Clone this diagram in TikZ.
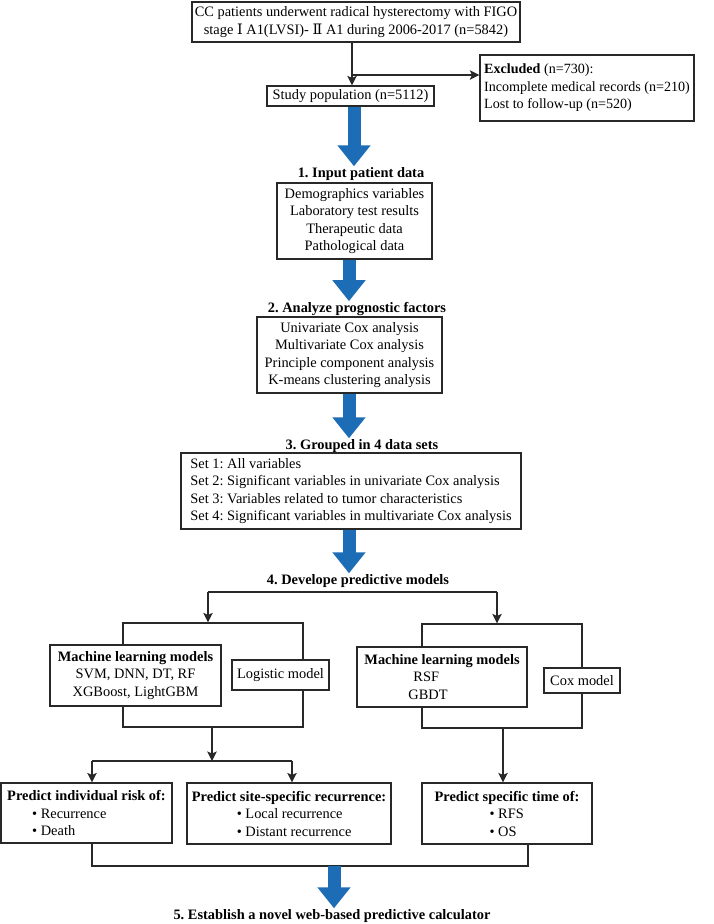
\documentclass[tikz,border=0pt]{standalone}
\usepackage{fontspec}
\setmainfont{Liberation Serif}
\newfontfamily\romfont{DejaVu Serif}
\usetikzlibrary{arrows.meta}
\definecolor{myblue}{RGB}{28,108,182}
\definecolor{lc}{RGB}{40,40,40}
\frenchspacing
\begin{document}
\begin{tikzpicture}[x=1pt,y=-1pt,
  every node/.style={font=\fontsize{14.4}{17.5}\selectfont},
  box/.style={draw=lc, line width=1.2pt, fill=white, inner sep=0pt, align=center},
  lbox/.style={box, align=left},
  head/.style={inner sep=1pt, font=\fontsize{14.4}{17.5}\selectfont\bfseries},
  frame/.style={draw=lc, line width=1.2pt, inner sep=0pt},
  line/.style={draw=lc, line width=1.2pt},
  conn/.style={line, -{Stealth[length=9.5pt,width=9.5pt,inset=2pt]}},
  bluearrow/.style={draw=myblue, line width=13pt, -{Triangle[length=21pt,width=32pt]}}]
\useasboundingbox (0,0) rectangle (714,924);

% top part
\node[box, minimum width=328pt, minimum height=40pt] (top) at (356,22)
  {CC patients underwent radical hysterectomy with FIGO\\stage {\romfont Ⅰ} A1(LVSI)- {\romfont Ⅱ} A1 during 2006-2017 (n=5842)};
\node[lbox, minimum width=214pt, minimum height=66pt, font=\fontsize{14.1}{17.5}\selectfont] (excl) at (587,88)
  {\textbf{Excluded} (n=730):\\Incomplete medical records (n=210)\\Lost to follow-up (n=520)};
\node[box, minimum width=167pt, minimum height=20pt] (study) at (350.5,96) {Study population (n=5112)};
\coordinate (v0) at (352,75);
\draw[conn] (top.south -| v0) -- (study.north -| v0);
\draw[conn] (v0) -- (excl.west |- v0);

% step 1
\coordinate (x1) at (354,0);
\node[head] (h1) at (361,174) {1. Input patient data};
\draw[bluearrow] (study.south -| x1) -- (h1.north -| x1);
\node[box, minimum width=155pt, minimum height=76pt] (in1) at (354.5,221)
  {Demographics variables\\Laboratory test results\\Therapeutic data\\Pathological data};

% step 2
\coordinate (x2) at (349,0);
\node[head] (h2) at (357,309) {2. Analyze prognostic factors};
\draw[bluearrow] (in1.south -| x2) -- (h2.north -| x2);
\node[box, minimum width=185pt, minimum height=76pt] (in2) at (349.5,355)
  {Univariate Cox analysis\\Multivariate Cox analysis\\Principle component analysis\\K-means clustering analysis};

% step 3
\node[head] (h3) at (362,446) {3. Grouped in 4 data sets};
\draw[bluearrow] (in2.south -| x2) -- (h3.north -| x2);
\node[lbox, minimum width=340pt, minimum height=76pt] (in3) at (351,491)
  {Set 1: All variables\\Set 2: Significant variables in univariate Cox analysis\\Set 3: Variables related to tumor characteristics\\Set 4: Significant variables in multivariate Cox analysis};

% step 4
\node[head] (h4) at (358,581) {4. Develope predictive models};
\draw[bluearrow] (in3.south -| x2) -- (h4.north -| x2);

\node[frame, minimum width=180pt, minimum height=104pt] (fL) at (213,675) {};
\node[frame, minimum width=160pt, minimum height=104pt] (fR) at (502,676) {};
\coordinate (sp) at (208,592);
\coordinate (sq) at (497,592);
\draw[line] (sp) -- (sq);
\draw[conn] (sp) -- (fL.north -| sp);
\draw[conn] (sq) -- (fR.north -| sq);

\node[box, minimum width=171pt, minimum height=61pt] (mlL) at (135.5,675.5)
  {\textbf{Machine learning models}\\SVM, DNN, DT, RF\\XGBoost, LightGBM};
\node[box, minimum width=97pt, minimum height=30pt] (logi) at (280.5,675) {Logistic model};
\node[lbox, minimum width=170pt, minimum height=60pt] (mlR) at (442,677)
  {\textbf{Machine learning models}\\\hspace*{49pt}RSF\\\hspace*{44pt}GBDT};
\node[box, minimum width=76pt, minimum height=25pt] (cox) at (582,680.5) {Cox model};

% predictions
\node[lbox, minimum width=171pt, minimum height=60pt] (risk) at (86.5,813)
  {\textbf{Predict individual risk of:}\\\hspace*{25pt}• Recurrence\\\hspace*{25pt}• Death};
\node[lbox, minimum width=204pt, minimum height=61pt] (site) at (289,813.5)
  {\textbf{Predict site-specific recurrence:}\\\hspace*{45pt}• Local recurrence\\\hspace*{45pt}• Distant recurrence};
\node[lbox, minimum width=170pt, minimum height=61pt] (time) at (507,813.5)
  {\textbf{Predict specific time of:}\\\hspace*{55pt}• RFS\\\hspace*{55pt}• OS};

\coordinate (lm) at (212,761);
\coordinate (ll) at (92,761);
\coordinate (lr) at (292,761);
\draw[conn] (fL.south -| lm) -- (lm);
\draw[line] (ll) -- (lr);
\draw[conn] (ll) -- (risk.north -| ll);
\draw[conn] (lr) -- (site.north -| lr);
\coordinate (tm) at (503,0);
\draw[conn] (fR.south -| tm) -- (time.north -| tm);

\coordinate (bl) at (92,866);
\coordinate (br) at (528,866);
\draw[line] (risk.south -| bl) -- (bl) -- (br) -- (time.south -| br);

% step 5
\coordinate (b5) at (334,866);
\node[head] (h5) at (332,916) {5. Establish a novel web-based predictive calculator};
\draw[bluearrow] (b5) -- (h5.north -| b5);
\end{tikzpicture}
\end{document}
